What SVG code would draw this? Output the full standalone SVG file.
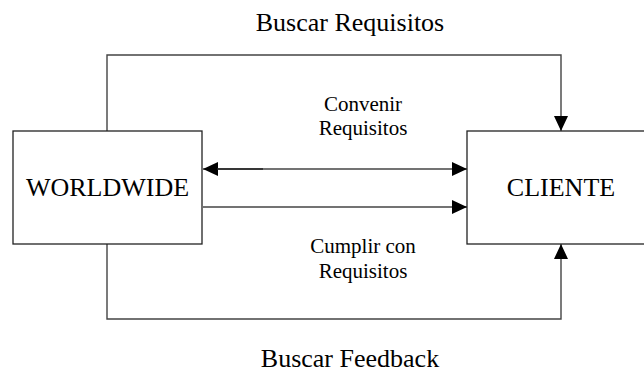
<svg xmlns="http://www.w3.org/2000/svg" width="644" height="374" viewBox="0 0 644 374">
<defs>
<style>
.box{fill:#fff;stroke:#222;stroke-width:1.3}
.ln{fill:none;stroke:#444;stroke-width:1.4}
.big{font-family:"Liberation Serif","Times New Roman",serif;font-size:26px;fill:#000;text-anchor:middle}
.sm{font-family:"Liberation Serif","Times New Roman",serif;font-size:21px;fill:#000;text-anchor:middle}
</style>
<marker id="ah" markerUnits="userSpaceOnUse" markerWidth="15" markerHeight="14" refX="15" refY="7" orient="auto-start-reverse" viewBox="0 0 15 14">
<path d="M0,0 L15,7 L0,14 z" fill="#000"/>
</marker>
</defs>
<g id="connectors">
<path class="ln" d="M107,131 V55 H561 V131" marker-end="url(#ah)"/>
<path class="ln" d="M203,169 H467" marker-start="url(#ah)" marker-end="url(#ah)"/>
<path d="M217,169 H263" stroke="#222" stroke-width="1.4"/>
<path class="ln" d="M203,207 H467" marker-end="url(#ah)"/>
<path class="ln" d="M107,244 V319 H561 V244" marker-end="url(#ah)"/>
<text class="big" x="350" y="31">Buscar Requisitos</text>
<text class="sm" x="363" y="111">Convenir</text>
<text class="sm" x="363" y="135">Requisitos</text>
<text class="sm" x="363" y="253">Cumplir con</text>
<text class="sm" x="363" y="278">Requisitos</text>
<text class="big" x="350" y="367">Buscar Feedback</text>
</g>
<g id="worldwide">
<rect class="box" x="13" y="131" width="189" height="113"/>
<text class="big" x="107.5" y="196">WORLDWIDE</text>
</g>
<g id="cliente">
<rect class="box" x="467" y="131" width="190" height="113"/>
<text class="big" x="561" y="196">CLIENTE</text>
</g>
</svg>
